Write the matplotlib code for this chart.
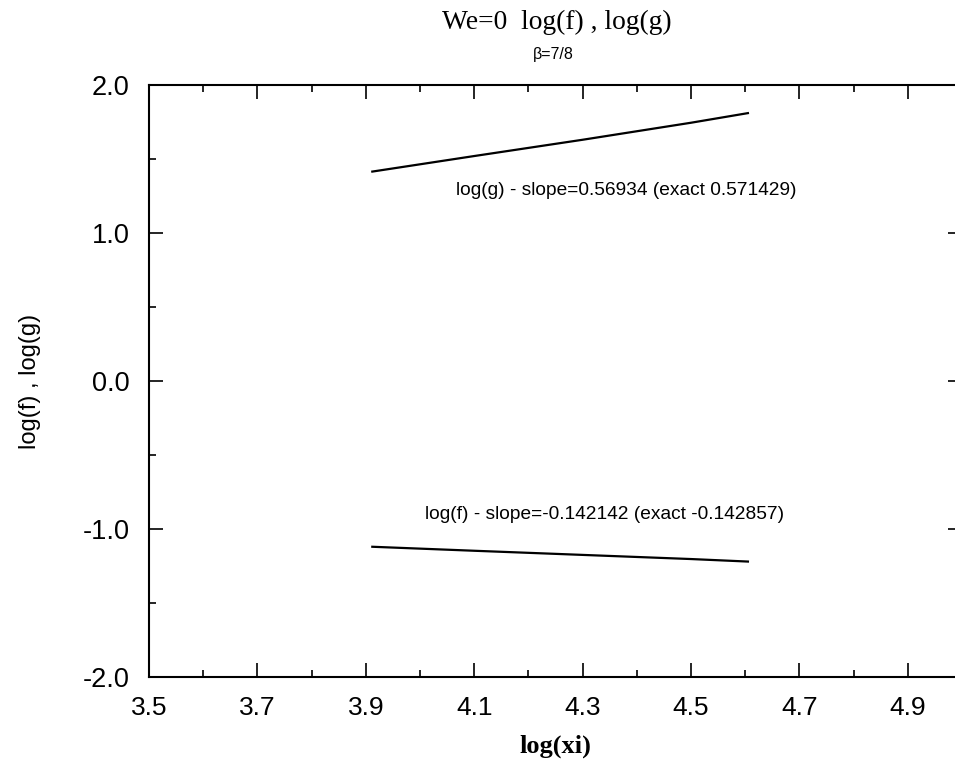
import matplotlib
matplotlib.use("Agg")
import matplotlib.pyplot as plt
from matplotlib.ticker import MultipleLocator, FormatStrFormatter

# data (log(xi) from ~ln 50 to ~ln 100)
log_xi = [3.912, 4.10, 4.30, 4.50, 4.605]
log_g = [1.415, 1.52, 1.63, 1.745, 1.81]
log_f = [-1.12, -1.147, -1.175, -1.203, -1.22]

x_ticks = [3.5, 3.7, 3.9, 4.1, 4.3, 4.5, 4.7, 4.9]
y_ticks = [-2.0, -1.0, 0.0, 1.0, 2.0]

label_g = "log(g) - slope=0.56934 (exact 0.571429)"
label_f = "log(f) - slope=-0.142142 (exact -0.142857)"

sans = ["Liberation Sans", "DejaVu Sans"]
serif = ["Liberation Serif", "DejaVu Serif"]

fig = plt.figure(figsize=(9.55, 7.64), dpi=100)
# axes run a bit past the right edge of the figure, like the scan
ax = fig.add_axes([149 / 955, 1 - 677 / 764, 813 / 955, 592 / 764])

ax.plot(log_xi, log_g, color="black", lw=1.6)
ax.plot(log_xi, log_f, color="black", lw=1.6)

ax.text(4.066, 1.29, label_g, fontsize=13.8, family=sans, va="center", ha="left")
ax.text(4.009, -0.905, label_f, fontsize=13.8, family=sans, va="center", ha="left")

ax.set_xlim(3.5, 5.0)
ax.set_ylim(-2.0, 2.0)
ax.set_xticks(x_ticks)
ax.set_yticks(y_ticks)
ax.xaxis.set_minor_locator(MultipleLocator(0.1))
ax.yaxis.set_minor_locator(MultipleLocator(0.5))
ax.xaxis.set_major_formatter(FormatStrFormatter("%.1f"))
ax.yaxis.set_major_formatter(FormatStrFormatter("%.1f"))
ax.tick_params(which="both", direction="in", top=True, right=True, width=1.2)
ax.tick_params(which="major", length=10)
ax.tick_params(which="minor", length=5)
ax.tick_params(axis="x", which="major", pad=14)
ax.tick_params(axis="y", which="major", pad=14)
for lab in ax.get_xticklabels():
    lab.set_fontfamily(sans)
    lab.set_fontsize(19)
for lab in ax.get_yticklabels():
    lab.set_fontfamily(sans)
    lab.set_fontsize(19.5)
for sp in ax.spines.values():
    sp.set_linewidth(1.5)

ax.set_xlabel("log(xi)", fontsize=19, family=serif, fontweight="bold", labelpad=10)
ax.set_ylabel("log(f) , log(g)", fontsize=17, family=sans, labelpad=30)

fig.text(557 / 955, 1 - 22 / 764, "We=0  log(f) , log(g)", fontsize=19.8,
         family=serif, ha="center", va="center")
fig.text(553 / 955, 1 - 55 / 764, "\u03b2=7/8", fontsize=11.5,
         family=sans, ha="center", va="center")

fig.savefig("out.png", dpi=100)
